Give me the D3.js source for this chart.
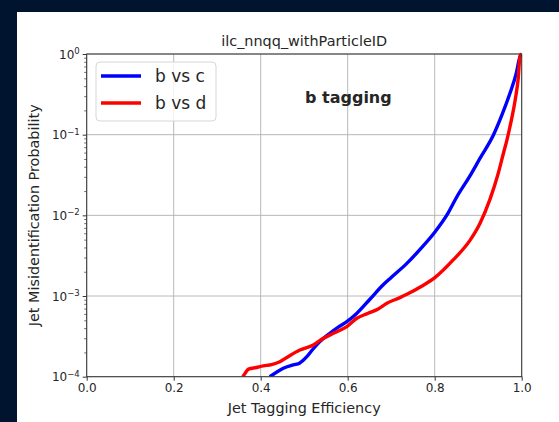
<!DOCTYPE html>
<html lang="en">
<head>
<meta charset="UTF-8">
<title>b tagging</title>
<script src="https://cdn.jsdelivr.net/npm/d3@7"></script>
<style>
  body { margin: 0; background: #00132f; }
  svg { display: block; }
  text { font-family: "DejaVu Sans", sans-serif; fill: #262626; }
</style>
</head>
<body>
<div id="chart"></div>
<script>
// data
var effC = [0.421, 0.44, 0.452, 0.475, 0.49, 0.506, 0.52, 0.536, 0.559, 0.58, 0.598, 0.62, 0.651, 0.68,
            0.70, 0.736, 0.77, 0.801, 0.83, 0.851, 0.88, 0.904, 0.935, 0.955, 0.973, 0.987, 0.996, 1.0];
var misC = [1.0e-4, 1.17e-4, 1.27e-4, 1.40e-4, 1.48e-4, 1.77e-4, 2.19e-4, 2.72e-4, 3.45e-4, 4.17e-4, 4.81e-4,
            6.03e-4, 9.12e-4, 1.35e-3, 1.70e-3, 2.54e-3, 3.98e-3, 6.27e-3, 1.05e-2, 1.70e-2, 3.02e-2, 5.08e-2,
            9.89e-2, 0.178, 0.326, 0.562, 0.923, 1.0];
var effD = [0.359, 0.365, 0.372, 0.39, 0.406, 0.425, 0.444, 0.463, 0.49, 0.521, 0.544, 0.567, 0.598, 0.621,
            0.647, 0.67, 0.69, 0.72, 0.736, 0.77, 0.801, 0.843, 0.881, 0.904, 0.927, 0.945, 0.958, 0.966,
            0.975, 0.985, 0.992, 0.996, 1.0];
var misD = [1.0e-4, 1.12e-4, 1.24e-4, 1.30e-4, 1.36e-4, 1.41e-4, 1.53e-4, 1.77e-4, 2.14e-4, 2.47e-4, 2.99e-4,
            3.45e-4, 4.17e-4, 5.30e-4, 6.11e-4, 6.92e-4, 8.13e-4, 9.55e-4, 1.05e-3, 1.32e-3, 1.70e-3, 2.82e-3,
            4.90e-3, 7.94e-3, 1.58e-2, 3.16e-2, 5.89e-2, 8.57e-2, 0.141, 0.269, 0.501, 0.933, 1.0];
var seriesNames = ["b vs c", "b vs d"];
var seriesColors = ["#0000ff", "#ff0000"];
var xTicks = [0, 0.2, 0.4, 0.6, 0.8, 1.0];
var yTicks = [1e-4, 1e-3, 1e-2, 1e-1, 1];
var yExps = ["\u22124", "\u22123", "\u22122", "\u22121", "0"];

var width = 559, height = 422;
var plot = {left: 86.7, right: 521.7, top: 54, bottom: 376.7};

var svg = d3.select("#chart").append("svg")
    .attr("width", width).attr("height", height);

// dark page border + white figure
svg.append("rect").attr("width", width).attr("height", height).attr("fill", "#00132f");
svg.append("rect").attr("x", 17).attr("y", 12).attr("width", width - 17).attr("height", height - 12)
    .attr("fill", "#ffffff");

var x = d3.scaleLinear().domain([0, 1]).range([plot.left, plot.right]);
var y = d3.scaleLog().domain([1e-4, 1]).range([plot.bottom, plot.top]);

// grid
var grid = svg.append("g").attr("stroke", "#b0b0b0").attr("stroke-width", 0.9);
grid.selectAll("line.gx").data(xTicks).enter().append("line")
    .attr("x1", function (d) { return x(d); }).attr("x2", function (d) { return x(d); })
    .attr("y1", plot.top).attr("y2", plot.bottom);
grid.selectAll("line.gy").data(yTicks).enter().append("line")
    .attr("y1", function (d) { return y(d); }).attr("y2", function (d) { return y(d); })
    .attr("x1", plot.left).attr("x2", plot.right);

// curves
svg.append("clipPath").attr("id", "clip").append("rect")
    .attr("x", plot.left).attr("y", plot.top - 2)
    .attr("width", plot.right - plot.left).attr("height", plot.bottom - plot.top + 2);

var line = d3.line()
    .curve(d3.curveMonotoneX)
    .x(function (d) { return x(d[0]); })
    .y(function (d) { return y(d[1]); });

var series = [d3.zip(effC, misC), d3.zip(effD, misD)];
svg.append("g").attr("clip-path", "url(#clip)")
    .selectAll("path").data(series).enter().append("path")
    .attr("d", line)
    .attr("fill", "none")
    .attr("stroke", function (d, i) { return seriesColors[i]; })
    .attr("stroke-width", 3.4)
    .attr("stroke-linejoin", "round");

// axes
var xAxis = d3.axisBottom(x).tickValues(xTicks).tickSize(4).tickPadding(3)
    .tickFormat(d3.format(".1f"));
var gx = svg.append("g").attr("transform", "translate(0," + plot.bottom + ")").call(xAxis);
gx.select(".domain").remove();
gx.selectAll("text").attr("font-size", 12).attr("font-family", "DejaVu Sans").attr("fill", "#262626");
gx.selectAll("line").attr("stroke", "#333");

var minor = [];
[1e-4, 1e-3, 1e-2, 1e-1].forEach(function (dec) {
    for (var k = 2; k <= 9; k++) minor.push(dec * k);
});
var gym = svg.append("g").attr("transform", "translate(" + plot.left + ",0)")
    .call(d3.axisLeft(y).tickValues(minor).tickSize(2.5).tickFormat(""));
gym.select(".domain").remove();
gym.selectAll("line").attr("stroke", "#333").attr("stroke-width", 0.7);

var gy = svg.append("g").attr("transform", "translate(" + plot.left + ",0)")
    .call(d3.axisLeft(y).tickValues(yTicks).tickSize(4).tickPadding(4).tickFormat(""));
gy.select(".domain").remove();
gy.selectAll("line").attr("stroke", "#333");
gy.selectAll(".tick").append("text")
    .attr("x", -7).attr("dy", "0.35em")
    .attr("text-anchor", "end")
    .attr("font-size", 12)
    .each(function (d, i) {
        var t = d3.select(this);
        t.append("tspan").text("10");
        t.append("tspan").attr("font-size", 8.5).attr("dy", "-0.55em").text(yExps[i]);
    });

// frame
svg.append("rect")
    .attr("x", plot.left).attr("y", plot.top)
    .attr("width", plot.right - plot.left).attr("height", plot.bottom - plot.top)
    .attr("fill", "none").attr("stroke", "#333").attr("stroke-width", 1);

// titles
svg.append("text").attr("x", (plot.left + plot.right) / 2).attr("y", 46)
    .attr("text-anchor", "middle").attr("font-size", 14.4).text("ilc_nnqq_withParticleID");
svg.append("text").attr("x", (plot.left + plot.right) / 2).attr("y", 413)
    .attr("text-anchor", "middle").attr("font-size", 14.4).text("Jet Tagging Efficiency");
svg.append("text")
    .attr("transform", "translate(39," + (plot.top + plot.bottom) / 2 + ") rotate(-90)")
    .attr("text-anchor", "middle").attr("font-size", 14.4).text("Jet Misidentification Probability");

svg.append("text").attr("x", 305).attr("y", 103)
    .attr("font-size", 16).attr("font-weight", "bold").attr("fill", "#000").text("b tagging");

// legend
var leg = svg.append("g");
leg.append("rect").attr("x", 96).attr("y", 62).attr("width", 120).attr("height", 59)
    .attr("rx", 4).attr("fill", "#ffffff").attr("fill-opacity", 0.8)
    .attr("stroke", "#d6d6d6").attr("stroke-width", 1);
var items = leg.selectAll("g.item").data(seriesNames).enter().append("g")
    .attr("transform", function (d, i) { return "translate(0," + (76 + i * 27) + ")"; });
items.append("line").attr("x1", 101).attr("x2", 141)
    .attr("stroke", function (d, i) { return seriesColors[i]; }).attr("stroke-width", 3.4);
items.append("text").attr("x", 155).attr("dy", "0.35em").attr("font-size", 17)
    .attr("fill", "#262626").text(function (d) { return d; });
</script>
</body>
</html>
